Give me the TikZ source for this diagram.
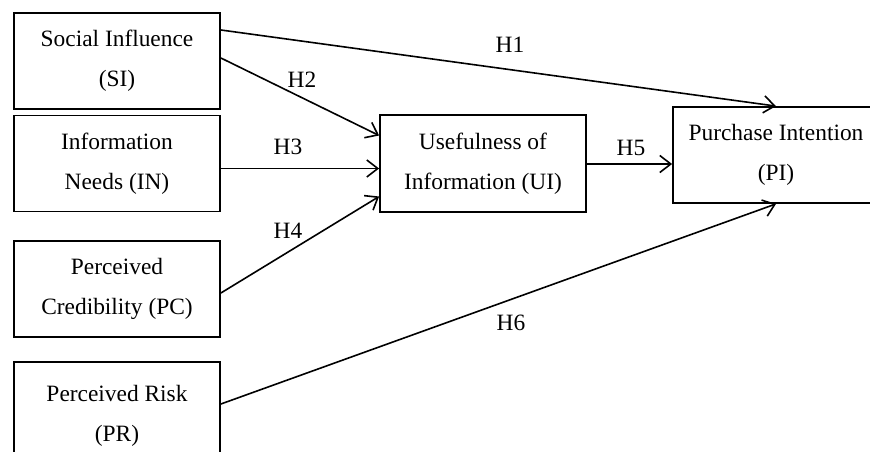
\documentclass[tikz,border=0pt]{standalone}
\usepackage{fontspec}
\setmainfont{Liberation Serif}
\usetikzlibrary{arrows.meta,calc}
\begin{document}
\begin{tikzpicture}[x=1pt,y=-1pt,
  box/.style={draw=black,line width=1.8pt,inner sep=0pt,align=center,
    font=\fontsize{23.4}{40}\selectfont,minimum width=206pt,minimum height=96pt},
  arr/.style={draw=black,line width=1.6pt,-{Straight Barb[length=11pt,width=17pt,line width=1.6pt]}},
  lab/.style={anchor=base,inner sep=0pt,font=\fontsize{23.4}{28}\selectfont}]
\useasboundingbox (0,0) rectangle (870,452);
\clip (0,0) rectangle (870,452);
\node[box] (SI) at (117,61) {Social Influence\\(SI)};
\node[box] (IN) at (117,163.5) {Information\\Needs (IN)};
\node[box] (PC) at (117,289) {Perceived\\Credibility (PC)};
\node[box,minimum height=108pt] (PR) at (117,416) {Perceived Risk\\(PR)};
\node[box,minimum width=206pt,minimum height=97pt] (UI) at (483,163.5) {Usefulness of\\Information (UI)};
\node[box,minimum height=96pt] (PI) at (776,155) {Purchase Intention\\(PI)};
\draw[arr] ($(SI.east)+(0,-31)$) -- (PI.north);
\draw[arr] ($(SI.east)+(0,-3)$) -- ($(UI.west)+(0,-28)$);
\draw[arr] ($(IN.east)+(0,5)$) -- ($(UI.west)+(0,5)$);
\draw[arr] ($(PC.east)+(0,4)$) -- ($(UI.west)+(0,33)$);
\draw[arr] ($(UI.east)+(0,0.5)$) -- ($(PI.west)+(0,9)$);
\draw[arr] ($(PR.east)+(0,-12)$) -- (PI.south);
\node[lab] (h1) at (510,53) {H1};
\node[lab] (h2) at (302,87) {H2};
\node[lab] (h3) at (288,154) {H3};
\node[lab] (h4) at (288,238) {H4};
\node[lab] (h5) at (631,155) {H5};
\node[lab] (h6) at (511,330) {H6};
\end{tikzpicture}
\end{document}
